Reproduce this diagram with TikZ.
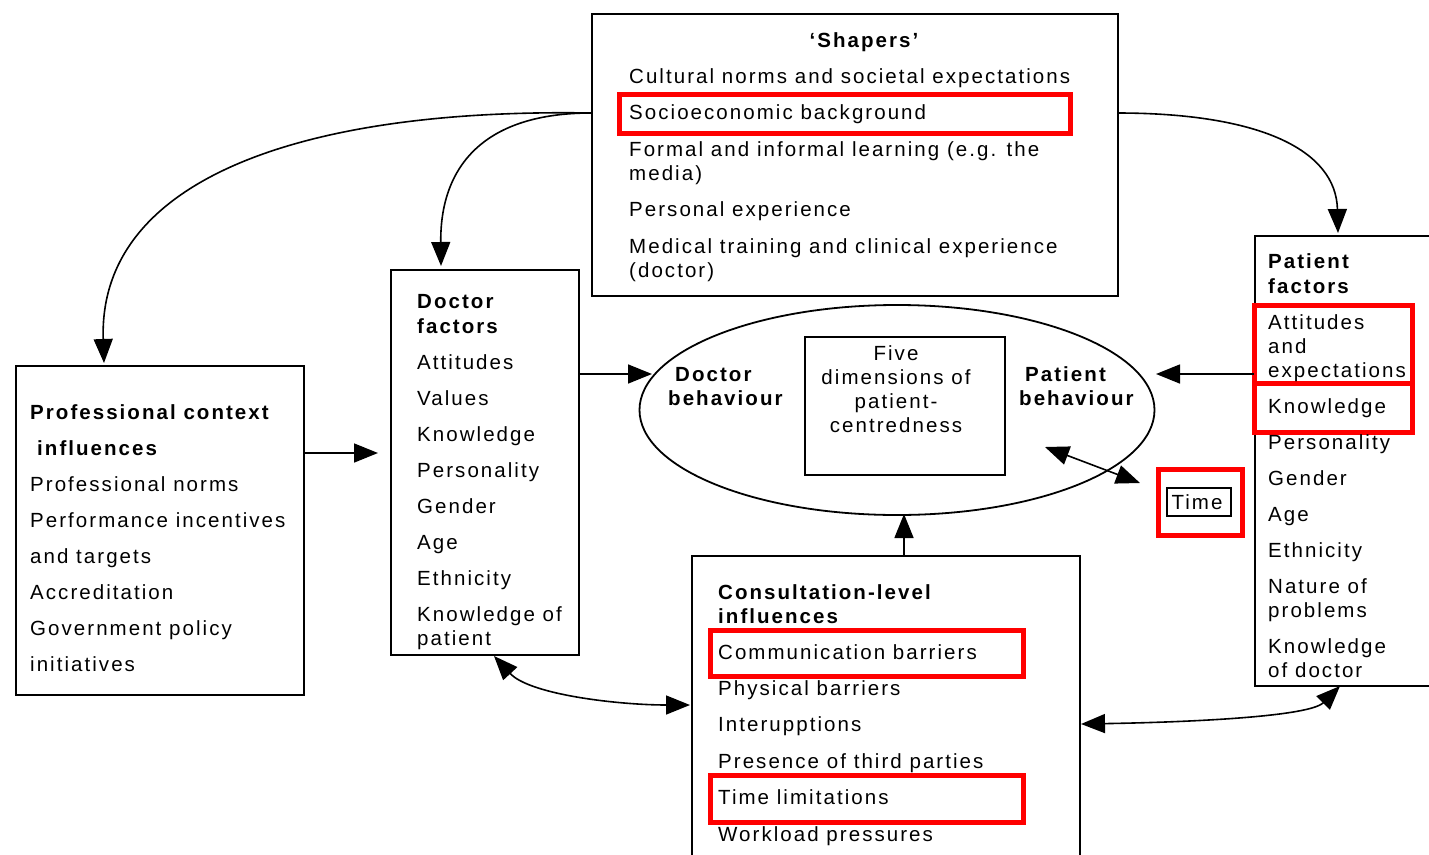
\documentclass[tikz,border=0pt]{standalone}
\usepackage{fontspec}
\setmainfont[LetterSpace=10]{Liberation Sans}
\usetikzlibrary{arrows.meta,shapes.geometric}
\begin{document}
\begin{tikzpicture}[x=1pt,y=-1pt,
  txt/.style={anchor=base west,inner sep=0pt,font=\fontsize{20.5}{24}\selectfont},
  btxt/.style={txt,font=\fontsize{20.5}{24}\selectfont\bfseries},
  ctxt/.style={txt,anchor=base},
  cbtxt/.style={btxt,anchor=base},
  box/.style={draw,line width=1.8pt,inner sep=0pt,anchor=north west},
  redbox/.style={draw=red,line width=5pt,inner sep=0pt,anchor=north west},
  arr/.style={line width=1.6pt,-{Triangle[length=24pt,width=19pt]}},
  darr/.style={line width=1.6pt,{Triangle[length=24pt,width=19pt]}-{Triangle[length=24pt,width=19pt]}}]
\useasboundingbox (0,0) rectangle (1429,854);
% boxes
\node[box,minimum width=526pt,minimum height=282pt] (shp) at (591,13) {};
\node[box,minimum width=188pt,minimum height=385pt] (doc) at (390,269) {};
\node[box,minimum width=288pt,minimum height=329pt] (pro) at (15,365) {};
\node[box,minimum width=200pt,minimum height=450pt] (pat) at (1254,235) {};
\node[box,minimum width=388pt,minimum height=320pt] (con) at (691,555) {};
\node[draw,ellipse,line width=1.8pt,minimum width=515pt,minimum height=210pt] (ell) at (897,410) {};
\node[box,minimum width=200pt,minimum height=138pt] (five) at (804,336) {};
\node[box,line width=1.5pt,minimum width=64pt,minimum height=28pt] (time) at (1166,487) {};
% red highlight boxes
\node[redbox,minimum width=451pt,minimum height=39pt] (r1) at (617,92) {};
\node[redbox,minimum width=158pt,minimum height=78pt] (r2) at (1252,303) {};
\node[redbox,minimum width=158pt,minimum height=49pt] (r3) at (1252,381) {};
\node[redbox,minimum width=84pt,minimum height=66pt] (r4) at (1156,467) {};
\node[redbox,minimum width=313pt,minimum height=46pt] (r5) at (708,628) {};
\node[redbox,minimum width=313pt,minimum height=47pt] (r6) at (708,773) {};
% Shapers text
\node[cbtxt] (s0) at (864,47) {‘Shapers’};
\node[txt] (s1) at (629,83) {Cultural norms and societal expectations};
\node[txt] (s2) at (629,119) {Socioeconomic background};
\node[txt] (s3) at (629,156) {Formal and informal learning (e.g. the};
\node[txt] (s3b) at (629,180) {media)};
\node[txt] (s4) at (629,216) {Personal experience};
\node[txt] (s5) at (629,253) {Medical training and clinical experience};
\node[txt] (s5b) at (629,277) {(doctor)};
% Doctor factors
\node[btxt] (d0) at (417,308) {Doctor};
\node[btxt] (d0b) at (417,333) {factors};
\node[txt] (d1) at (417,369) {Attitudes};
\node[txt] (d2) at (417,405) {Values};
\node[txt] (d3) at (417,441) {Knowledge};
\node[txt] (d4) at (417,477) {Personality};
\node[txt] (d5) at (417,513) {Gender};
\node[txt] (d6) at (417,549) {Age};
\node[txt] (d7) at (417,585) {Ethnicity};
\node[txt] (d8) at (417,621) {Knowledge of};
\node[txt] (d8b) at (417,645) {patient};
% Professional context
\node[btxt] (p0) at (30,419) {Professional context};
\node[btxt] (p0b) at (37,455) {influences};
\node[txt] (p1) at (30,491) {Professional norms};
\node[txt] (p2) at (30,527) {Performance incentives};
\node[txt] (p2b) at (30,563) {and targets};
\node[txt] (p3) at (30,599) {Accreditation};
\node[txt] (p4) at (30,635) {Government policy};
\node[txt] (p4b) at (30,671) {initiatives};
% Patient factors
\node[btxt] (q0) at (1268,268) {Patient};
\node[btxt] (q0b) at (1268,293) {factors};
\node[txt] (q1) at (1268,329) {Attitudes};
\node[txt] (q1b) at (1268,353) {and};
\node[txt] (q1c) at (1268,377) {expectations};
\node[txt] (q2) at (1268,413) {Knowledge};
\node[txt] (q3) at (1268,449) {Personality};
\node[txt] (q4) at (1268,485) {Gender};
\node[txt] (q5) at (1268,521) {Age};
\node[txt] (q6) at (1268,557) {Ethnicity};
\node[txt] (q7) at (1268,593) {Nature of};
\node[txt] (q7b) at (1268,617) {problems};
\node[txt] (q8) at (1268,653) {Knowledge};
\node[txt] (q8b) at (1268,677) {of doctor};
% Consultation
\node[btxt] (c0) at (718,599) {Consultation-level};
\node[btxt] (c0b) at (718,623) {influences};
\node[txt] (c1) at (718,659) {Communication barriers};
\node[txt] (c2) at (718,695) {Physical barriers};
\node[txt] (c3) at (718,731) {Interupptions};
\node[txt] (c4) at (718,768) {Presence of third parties};
\node[txt] (c5) at (718,804) {Time limitations};
\node[txt] (c6) at (718,841) {Workload pressures};
% Ellipse content
\node[btxt] (e1) at (675,381) {Doctor};
\node[btxt] (e1b) at (668,405) {behaviour};
\node[btxt] (e2) at (1025,381) {Patient};
\node[btxt] (e2b) at (1019,405) {behaviour};
\node[ctxt] (f1) at (896,360) {Five};
\node[ctxt] (f2) at (896,384) {dimensions of};
\node[ctxt] (f3) at (896,408) {patient-};
\node[ctxt] (f4) at (896,432) {centredness};
\node[ctxt] (tt) at (1197,509) {Time};
% connectors
\coordinate (shL) at (591,113);
\coordinate (shR) at (1117,113);
\coordinate (proT) at (104,363);
\coordinate (docT) at (441,266);
\coordinate (patT) at (1338,233);
\draw[arr] (shL) .. controls (300,108) and (98,180) .. (proT);
\draw[arr] (shL) .. controls (480,113) and (440,170) .. (docT);
\draw[arr] (shR) .. controls (1260,113) and (1336,150) .. (patT);
\coordinate (proR) at (303,453);
\coordinate (docIn) at (378,453);
\draw[arr] (proR) -- (docIn);
\coordinate (docR) at (578,374);
\coordinate (ellL) at (652,374);
\draw[arr] (docR) -- (ellL);
\coordinate (patL) at (1254,374);
\coordinate (ellR) at (1156,374);
\draw[arr] (patL) -- (ellR);
\coordinate (conT) at (904,555);
\coordinate (ellB) at (904,514);
\draw[arr] (conT) -- (ellB);
\coordinate (tA) at (1045,447);
\coordinate (tB) at (1140,483);
\draw[darr] (tA) -- (tB);
\coordinate (docB) at (494,656);
\coordinate (conL) at (690,705);
\draw[darr] (docB) .. controls (530,695) and (620,705) .. (conL);
\coordinate (conR) at (1081,724);
\coordinate (patB) at (1340,686);
\draw[darr] (conR) .. controls (1200,722) and (1310,716) .. (patB);
\end{tikzpicture}
\end{document}
